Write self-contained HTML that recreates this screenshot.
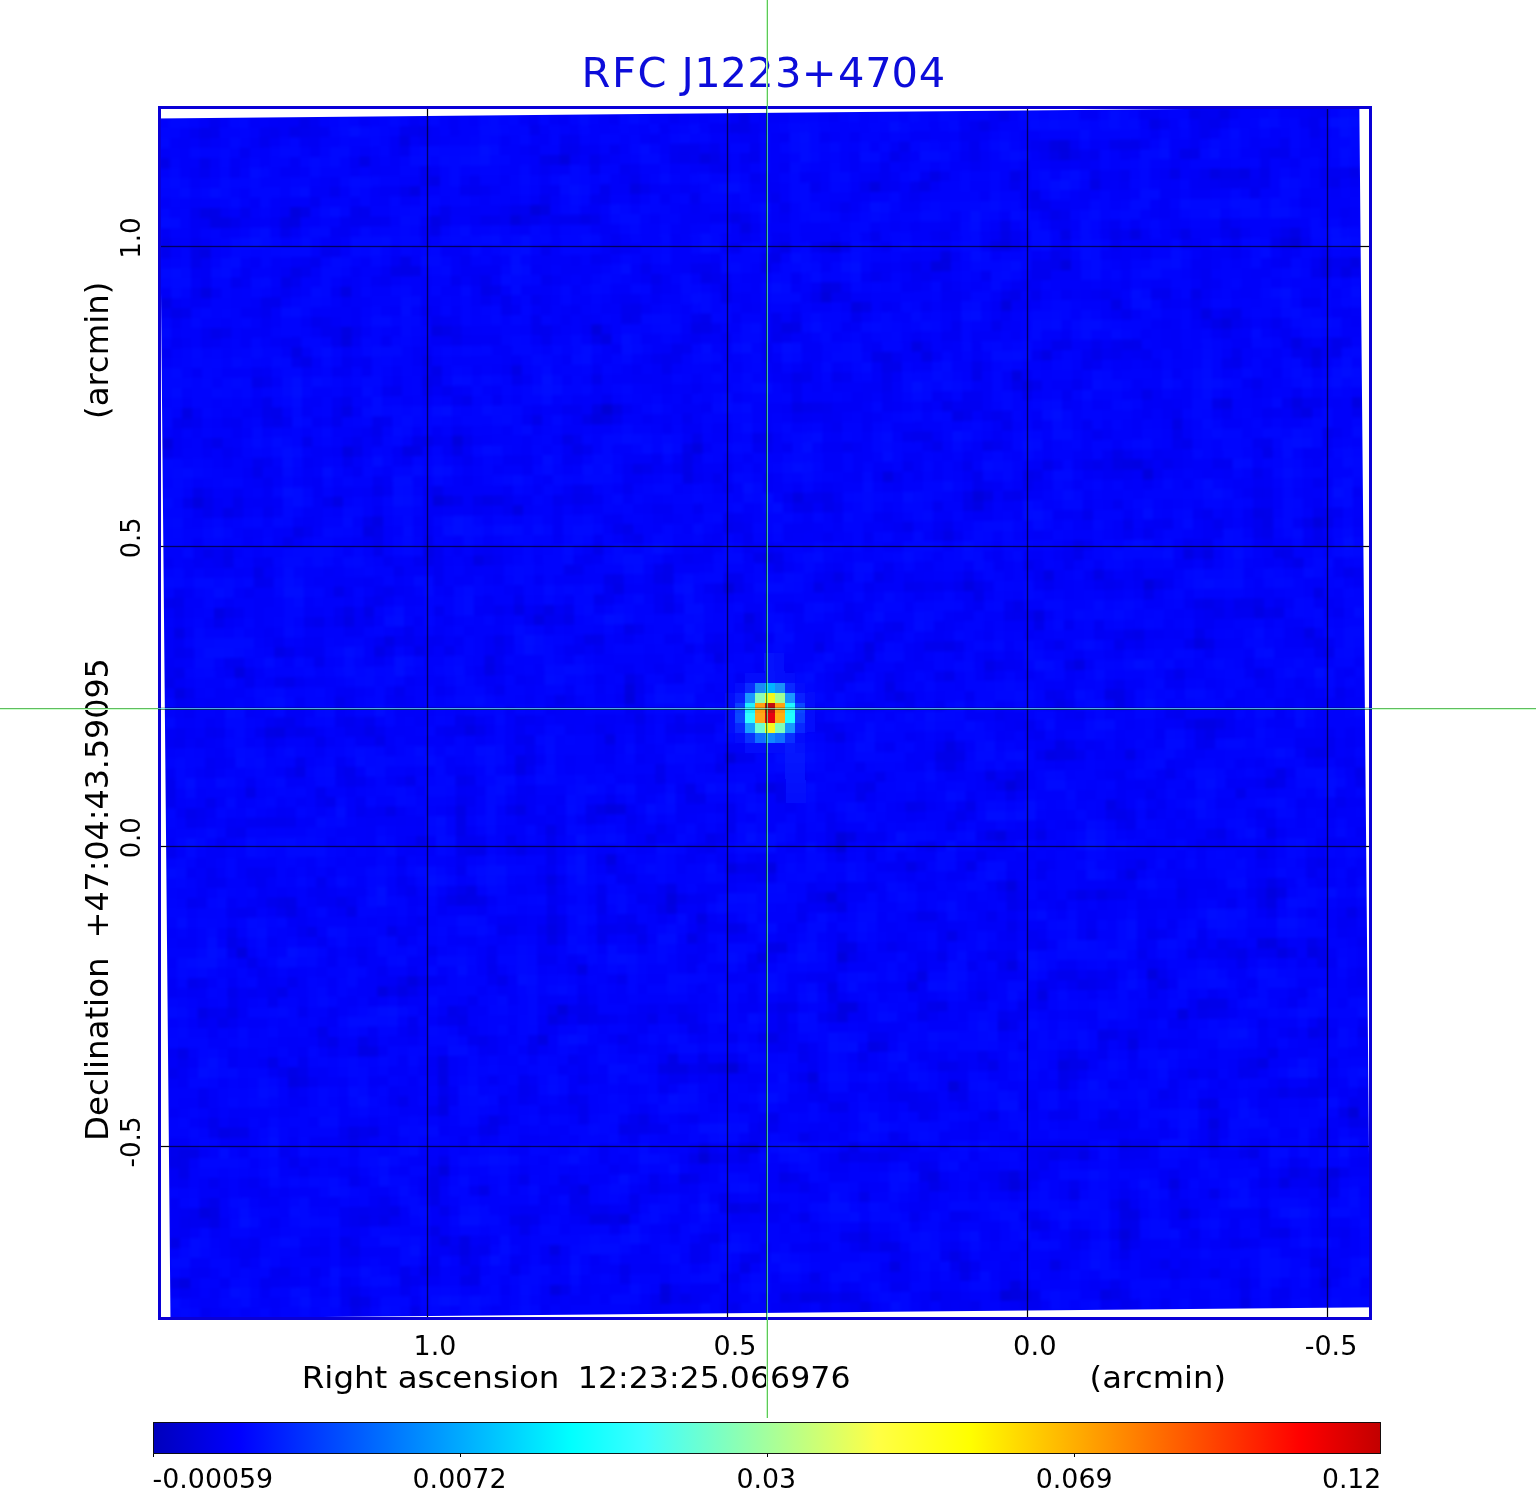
<!DOCTYPE html>
<html><head><meta charset="utf-8"><title>RFC J1223+4704</title>
<style>
html,body{margin:0;padding:0;background:#fff;}
body{width:1536px;height:1511px;overflow:hidden;}
svg{display:block;}
text{font-family:"DejaVu Sans","Liberation Sans",sans-serif;font-kerning:none;}
</style></head><body>
<svg width="1536" height="1511" viewBox="0 0 1536 1511">
<defs>
<clipPath id="fr"><rect x="161" y="109" width="1208" height="1208"/></clipPath>
<linearGradient id="jet" x1="0" x2="1" y1="0" y2="0">
<stop offset="0" stop-color="#0000bc"/>
<stop offset="0.07" stop-color="#0000ff"/>
<stop offset="0.34" stop-color="#00ffff"/>
<stop offset="0.40" stop-color="#3dffff"/>
<stop offset="0.59" stop-color="#ffff45"/>
<stop offset="0.665" stop-color="#ffff00"/>
<stop offset="0.935" stop-color="#ff0000"/>
<stop offset="1" stop-color="#c20000"/>
</linearGradient>
<filter id="nz" x="-600" y="-600" width="1200" height="1200" filterUnits="userSpaceOnUse" primitiveUnits="userSpaceOnUse" color-interpolation-filters="sRGB">
<feTurbulence type="fractalNoise" baseFrequency="0.035" numOctaves="2" seed="11" result="t"/>
<feColorMatrix in="t" type="matrix" values="0 0 0 0 0  1 0 0 0 0  1 0 0 0 0  0 0 0 0 1" result="m"/>
<feComponentTransfer in="m" result="c">
<feFuncG type="table" tableValues="0 0 0 0 0.002 0.008 0.02 0.036 0.05 0.06 0.07"/>
<feFuncB type="table" tableValues="0.82 0.84 0.88 0.93 0.968 0.985 0.996 1 1 1 1"/>
</feComponentTransfer>
<feFlood x="-596" y="-596" width="2" height="2" flood-color="#000" result="d"/>
<feOffset in="d" dx="0" dy="0" x="-600" y="-600" width="10" height="10" result="cell"/>
<feTile in="cell" result="dots"/>
<feComposite in="c" in2="dots" operator="in" result="samp"/>
<feMorphology in="samp" operator="dilate" radius="4" result="mos0"/>
<feGaussianBlur in="mos0" stdDeviation="1.6" result="mos"/>
<feFlood flood-color="#0206fa" result="bg"/>
<feMerge><feMergeNode in="bg"/><feMergeNode in="mos"/></feMerge>
</filter>
</defs>
<rect width="1536" height="1511" fill="#fff"/>

<g clip-path="url(#fr)">
<rect x="427" y="109" width="1" height="1208" fill="#000"/>
<rect x="727" y="109" width="1" height="1208" fill="#000"/>
<rect x="1027" y="109" width="1" height="1208" fill="#000"/>
<rect x="1327" y="109" width="1" height="1208" fill="#000"/>
<rect x="161" y="246" width="1208" height="1" fill="#000"/>
<rect x="161" y="546" width="1208" height="1" fill="#000"/>
<rect x="161" y="846" width="1208" height="1" fill="#000"/>
<rect x="161" y="1146" width="1208" height="1" fill="#000"/>
<g transform="translate(764.9 712.9) rotate(-0.529)" shape-rendering="crispEdges">
<rect x="-600" y="-600" width="1200" height="1200" fill="#0206fa" filter="url(#nz)"/>
<rect x="-20" y="-30" width="10" height="10" fill="#0a2cff"/>
<rect x="-10" y="-30" width="10" height="10" fill="#1a8cf6"/>
<rect x="0" y="-30" width="10" height="10" fill="#00b4ff"/>
<rect x="10" y="-30" width="10" height="10" fill="#1a90f8"/>
<rect x="20" y="-30" width="10" height="10" fill="#0828ff"/>
<rect x="-30" y="-20" width="10" height="10" fill="#0820ff"/>
<rect x="-20" y="-20" width="10" height="10" fill="#1a98ff"/>
<rect x="-10" y="-20" width="10" height="10" fill="#8cffb4"/>
<rect x="0" y="-20" width="10" height="10" fill="#f4f81c"/>
<rect x="10" y="-20" width="10" height="10" fill="#a0ff94"/>
<rect x="20" y="-20" width="10" height="10" fill="#1a98ff"/>
<rect x="30" y="-20" width="10" height="10" fill="#0820ff"/>
<rect x="-30" y="-10" width="10" height="10" fill="#0a40ff"/>
<rect x="-20" y="-10" width="10" height="10" fill="#20f0ff"/>
<rect x="-10" y="-10" width="10" height="10" fill="#ffa010"/>
<rect x="0" y="-10" width="10" height="10" fill="#c00c10"/>
<rect x="10" y="-10" width="10" height="10" fill="#ffa010"/>
<rect x="20" y="-10" width="10" height="10" fill="#20f8ff"/>
<rect x="30" y="-10" width="10" height="10" fill="#0a48ff"/>
<rect x="-30" y="0" width="10" height="10" fill="#0a48ff"/>
<rect x="-20" y="0" width="10" height="10" fill="#30ffff"/>
<rect x="-10" y="0" width="10" height="10" fill="#ffa818"/>
<rect x="0" y="0" width="10" height="10" fill="#e80010"/>
<rect x="10" y="0" width="10" height="10" fill="#ffb010"/>
<rect x="20" y="0" width="10" height="10" fill="#20ffff"/>
<rect x="30" y="0" width="10" height="10" fill="#0a40ff"/>
<rect x="-30" y="10" width="10" height="10" fill="#0828ff"/>
<rect x="-20" y="10" width="10" height="10" fill="#18a0ff"/>
<rect x="-10" y="10" width="10" height="10" fill="#70ffd0"/>
<rect x="0" y="10" width="10" height="10" fill="#f8f820"/>
<rect x="10" y="10" width="10" height="10" fill="#80ffb8"/>
<rect x="20" y="10" width="10" height="10" fill="#1898ff"/>
<rect x="30" y="10" width="10" height="10" fill="#0828ff"/>
<rect x="-20" y="20" width="10" height="10" fill="#0830ff"/>
<rect x="-10" y="20" width="10" height="10" fill="#1070ff"/>
<rect x="0" y="20" width="10" height="10" fill="#1088ff"/>
<rect x="10" y="20" width="10" height="10" fill="#1070ff"/>
<rect x="20" y="20" width="10" height="10" fill="#0830ff"/>
<rect x="-40" y="-20" width="10" height="10" fill="#030cfc"/>
<rect x="-40" y="-10" width="10" height="10" fill="#030cfc"/>
<rect x="-40" y="0" width="10" height="10" fill="#030cfc"/>
<rect x="-40" y="10" width="10" height="10" fill="#030cfc"/>
<rect x="-30" y="-30" width="10" height="10" fill="#030cfc"/>
<rect x="-30" y="20" width="10" height="10" fill="#030cfc"/>
<rect x="-20" y="-40" width="10" height="10" fill="#030cfc"/>
<rect x="-20" y="30" width="10" height="10" fill="#030cfc"/>
<rect x="-10" y="-40" width="10" height="10" fill="#030cfc"/>
<rect x="-10" y="30" width="10" height="10" fill="#030cfc"/>
<rect x="0" y="-40" width="10" height="10" fill="#0412fd"/>
<rect x="0" y="30" width="10" height="10" fill="#030cfc"/>
<rect x="10" y="-40" width="10" height="10" fill="#030efc"/>
<rect x="10" y="30" width="10" height="10" fill="#030cfc"/>
<rect x="20" y="-40" width="10" height="10" fill="#030cfc"/>
<rect x="20" y="30" width="10" height="10" fill="#0518fe"/>
<rect x="30" y="-30" width="10" height="10" fill="#030cfc"/>
<rect x="30" y="20" width="10" height="10" fill="#030cfc"/>
<rect x="40" y="-20" width="10" height="10" fill="#030cfc"/>
<rect x="40" y="-10" width="10" height="10" fill="#030cfc"/>
<rect x="40" y="0" width="10" height="10" fill="#030cfc"/>
<rect x="40" y="10" width="10" height="10" fill="#030cfc"/>
<rect x="30" y="30" width="10" height="10" fill="#0412fd"/>
<rect x="20" y="40" width="10" height="10" fill="#0516fe"/>
<rect x="30" y="40" width="10" height="10" fill="#0516fe"/>
<rect x="20" y="50" width="10" height="10" fill="#0414fd"/>
<rect x="30" y="50" width="10" height="10" fill="#0414fd"/>
<rect x="20" y="60" width="10" height="10" fill="#0412fd"/>
<rect x="30" y="60" width="10" height="10" fill="#0412fd"/>
<rect x="20" y="70" width="10" height="10" fill="#0410fc"/>
<rect x="30" y="70" width="10" height="10" fill="#0410fc"/>
<rect x="20" y="80" width="10" height="10" fill="#030efc"/>
<rect x="30" y="80" width="10" height="10" fill="#030efc"/>
<rect x="0" y="-60" width="10" height="10" fill="#0412fd"/>
<rect x="10" y="-60" width="10" height="10" fill="#030efc"/>
<rect x="0" y="-50" width="10" height="10" fill="#0412fd"/>
<rect x="10" y="-50" width="10" height="10" fill="#030efc"/>
</g>
<rect x="426" y="109" width="3" height="1208" fill="#000" fill-opacity="0.1"/>
<rect x="427" y="109" width="1" height="1208" fill="#000" fill-opacity="0.56"/>
<rect x="726" y="109" width="3" height="1208" fill="#000" fill-opacity="0.1"/>
<rect x="727" y="109" width="1" height="1208" fill="#000" fill-opacity="0.56"/>
<rect x="1026" y="109" width="3" height="1208" fill="#000" fill-opacity="0.1"/>
<rect x="1027" y="109" width="1" height="1208" fill="#000" fill-opacity="0.56"/>
<rect x="1326" y="109" width="3" height="1208" fill="#000" fill-opacity="0.1"/>
<rect x="1327" y="109" width="1" height="1208" fill="#000" fill-opacity="0.56"/>
<rect x="161" y="245" width="1208" height="3" fill="#000" fill-opacity="0.1"/>
<rect x="161" y="246" width="1208" height="1" fill="#000" fill-opacity="0.56"/>
<rect x="161" y="545" width="1208" height="3" fill="#000" fill-opacity="0.1"/>
<rect x="161" y="546" width="1208" height="1" fill="#000" fill-opacity="0.56"/>
<rect x="161" y="845" width="1208" height="3" fill="#000" fill-opacity="0.1"/>
<rect x="161" y="846" width="1208" height="1" fill="#000" fill-opacity="0.56"/>
<rect x="161" y="1145" width="1208" height="3" fill="#000" fill-opacity="0.1"/>
<rect x="161" y="1146" width="1208" height="1" fill="#000" fill-opacity="0.56"/>
</g>
<rect x="159.5" y="107.5" width="1211" height="1211" fill="none" stroke="#0a00d6" stroke-width="3"/>
<text x="581.5 612.1 637.4 668.0 681.6 694.3 720.6 747.3 775.0 801.8 838.1 865.3 891.4 918.8" y="86.6" font-size="41.6" fill="#0c0cda">RFC J1223+4704</text>
<text x="413.55" y="1355.00" font-size="26.5" fill="#000" textLength="42.74" lengthAdjust="spacingAndGlyphs" xml:space="preserve">1.0</text>
<text x="713.62" y="1355.00" font-size="26.5" fill="#000" textLength="42.83" lengthAdjust="spacingAndGlyphs" xml:space="preserve">0.5</text>
<text x="1013.10" y="1355.00" font-size="26.5" fill="#000" textLength="43.52" lengthAdjust="spacingAndGlyphs" xml:space="preserve">0.0</text>
<text x="1304.79" y="1355.00" font-size="26.5" fill="#000" textLength="52.46" lengthAdjust="spacingAndGlyphs" xml:space="preserve">-0.5</text>
<text x="301.81" y="1387.50" font-size="30.5" fill="#000" textLength="257.55" lengthAdjust="spacingAndGlyphs" xml:space="preserve">Right ascension</text>
<text x="577.83" y="1387.50" font-size="30.5" fill="#000" textLength="272.66" lengthAdjust="spacingAndGlyphs" xml:space="preserve">12:23:25.066976</text>
<text x="1089.64" y="1387.50" font-size="30.5" fill="#000" textLength="136.33" lengthAdjust="spacingAndGlyphs" xml:space="preserve">(arcmin)</text>
<text transform="translate(140.40 258.87) rotate(-90)" font-size="27.4" fill="#000" textLength="41.61" lengthAdjust="spacingAndGlyphs" xml:space="preserve">1.0</text>
<text transform="translate(140.40 558.29) rotate(-90)" font-size="27.4" fill="#000" textLength="40.73" lengthAdjust="spacingAndGlyphs" xml:space="preserve">0.5</text>
<text transform="translate(140.40 858.30) rotate(-90)" font-size="27.4" fill="#000" textLength="41.01" lengthAdjust="spacingAndGlyphs" xml:space="preserve">0.0</text>
<text transform="translate(140.40 1167.48) rotate(-90)" font-size="27.4" fill="#000" textLength="51.07" lengthAdjust="spacingAndGlyphs" xml:space="preserve">-0.5</text>
<text transform="translate(108.00 1140.88) rotate(-90)" font-size="31.8" fill="#000" textLength="183.44" lengthAdjust="spacingAndGlyphs" xml:space="preserve">Declination</text>
<text transform="translate(108.00 938.16) rotate(-90)" font-size="31.8" fill="#000" textLength="279.93" lengthAdjust="spacingAndGlyphs" xml:space="preserve">+47:04:43.59095</text>
<text transform="translate(108.00 418.88) rotate(-90)" font-size="31.8" fill="#000" textLength="137.16" lengthAdjust="spacingAndGlyphs" xml:space="preserve">(arcmin)</text>
<g shape-rendering="crispEdges">
<rect x="766" y="0" width="1" height="106" fill="#c4fcc4"/>
<rect x="767" y="0" width="1" height="106" fill="#5fc658"/>
<rect x="766" y="1320" width="1" height="98" fill="#c4fcc4"/>
<rect x="767" y="1320" width="1" height="98" fill="#5fc658"/>
<rect x="0" y="709" width="158" height="1" fill="#ccffcc"/>
<rect x="0" y="708" width="158" height="1" fill="#5fbe5f"/>
<rect x="1372" y="709" width="164" height="1" fill="#ccffcc"/>
<rect x="1372" y="708" width="164" height="1" fill="#5fbe5f"/>
<rect x="766" y="106" width="1" height="1214" fill="#005800" fill-opacity="0.68"/>
<rect x="767" y="106" width="1" height="1214" fill="#5bffb2" fill-opacity="0.7"/>
<rect x="158" y="707" width="1214" height="1" fill="#000" fill-opacity="0.2"/>
<rect x="158" y="709" width="1214" height="1" fill="#004300" fill-opacity="0.6"/>
<rect x="158" y="708" width="1214" height="1" fill="#72f3dd" fill-opacity="0.7"/>
</g>
<rect x="153.5" y="1422.5" width="1227" height="31" fill="url(#jet)" stroke="#000" stroke-opacity="0.9" stroke-width="1"/>
<rect x="153" y="1454" width="1" height="3" fill="#000"/>
<rect x="460" y="1454" width="1" height="3" fill="#000"/>
<rect x="767" y="1454" width="1" height="3" fill="#000"/>
<rect x="1074" y="1454" width="1" height="3" fill="#000"/>
<text x="152.59" y="1487.70" font-size="26.7" fill="#000" textLength="120.60" lengthAdjust="spacingAndGlyphs" xml:space="preserve">-0.00059</text>
<text x="412.53" y="1487.70" font-size="26.7" fill="#000" textLength="93.96" lengthAdjust="spacingAndGlyphs" xml:space="preserve">0.0072</text>
<text x="736.43" y="1487.70" font-size="26.7" fill="#000" textLength="59.72" lengthAdjust="spacingAndGlyphs" xml:space="preserve">0.03</text>
<text x="1035.73" y="1487.70" font-size="26.7" fill="#000" textLength="76.86" lengthAdjust="spacingAndGlyphs" xml:space="preserve">0.069</text>
<text x="1321.94" y="1487.70" font-size="26.7" fill="#000" textLength="59.32" lengthAdjust="spacingAndGlyphs" xml:space="preserve">0.12</text>
</svg></body></html>
